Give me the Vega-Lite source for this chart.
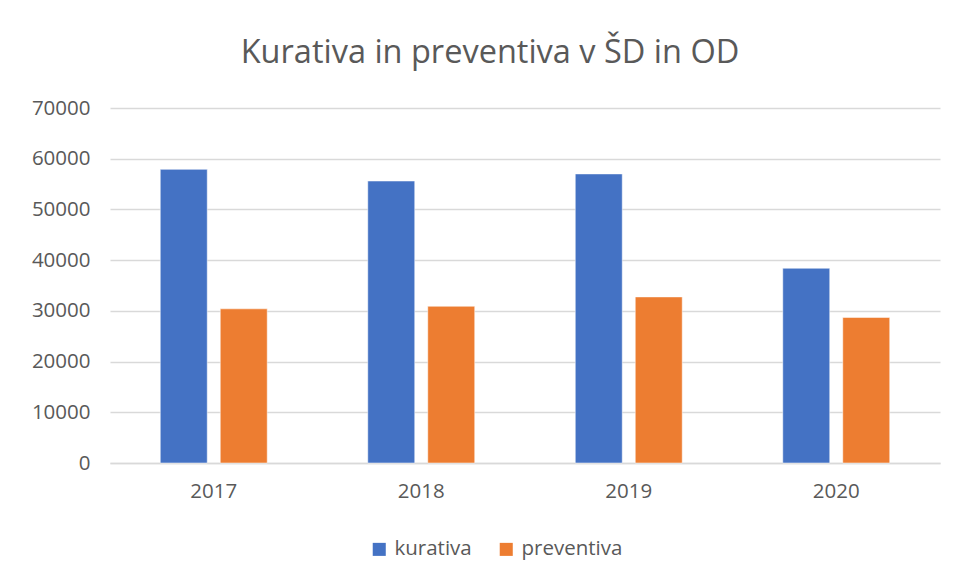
{
  "$schema": "https://vega.github.io/schema/vega-lite/v6.json",
  "autosize": {"type": "none"},
  "width": 830,
  "height": 355,
  "padding": {"left": 110, "top": 108, "right": 19, "bottom": 115},
  "background": "white",
  "title": {
    "text": "Kurativa in preventiva v ŠD in OD",
    "anchor": "middle",
    "frame": "group",
    "dx": -35,
    "offset": 29,
    "fontSize": 32.5,
    "font": "Open Sans",
    "fontWeight": "normal",
    "color": "#595959"
  },
  "data": {
    "values": [
      {"leto": "2017", "vrsta": "kurativa", "vrednost": 57900},
      {"leto": "2017", "vrsta": "preventiva", "vrednost": 30400},
      {"leto": "2018", "vrsta": "kurativa", "vrednost": 55600},
      {"leto": "2018", "vrsta": "preventiva", "vrednost": 30900},
      {"leto": "2019", "vrsta": "kurativa", "vrednost": 57000},
      {"leto": "2019", "vrsta": "preventiva", "vrednost": 32750},
      {"leto": "2020", "vrsta": "kurativa", "vrednost": 38400},
      {"leto": "2020", "vrsta": "preventiva", "vrednost": 28700}
    ]
  },
  "mark": {"type": "bar", "stroke": "white", "strokeWidth": 1, "strokeOpacity": 0.5},
  "encoding": {
    "x": {
      "field": "leto",
      "type": "nominal",
      "scale": {"paddingInner": 0, "paddingOuter": 0},
      "axis": {
        "title": null,
        "labelAngle": 0,
        "labelFont": "Open Sans",
        "labelFontSize": 20.5,
        "labelColor": "#595959",
        "labelPadding": 18,
        "ticks": false,
        "domainColor": "#d9d9d9",
        "domainWidth": 1.5,
        "grid": false
      }
    },
    "xOffset": {
      "field": "vrsta",
      "type": "nominal",
      "scale": {"paddingInner": 0.217, "paddingOuter": 0.838}
    },
    "y": {
      "field": "vrednost",
      "type": "quantitative",
      "scale": {"domain": [0, 70000], "nice": false},
      "axis": {
        "title": null,
        "values": [0, 10000, 20000, 30000, 40000, 50000, 60000, 70000],
        "format": "d",
        "labelFont": "Open Sans",
        "labelFontSize": 20.5,
        "labelColor": "#595959",
        "labelPadding": 20,
        "ticks": false,
        "domain": false,
        "grid": true,
        "gridColor": "#d9d9d9",
        "gridWidth": 1.5
      }
    },
    "color": {
      "field": "vrsta",
      "type": "nominal",
      "scale": {"domain": ["kurativa", "preventiva"], "range": ["#4472C4", "#ED7D31"]},
      "legend": {
        "title": null,
        "orient": "none",
        "legendX": 259,
        "legendY": 431,
        "direction": "horizontal",
        "symbolType": "square",
        "symbolSize": 170,
        "symbolStrokeWidth": 0,
        "labelFont": "Open Sans",
        "labelFontSize": 20.5,
        "labelColor": "#595959",
        "labelOffset": 5,
        "columnPadding": 24
      }
    }
  },
  "config": {"view": {"stroke": null}}
}
